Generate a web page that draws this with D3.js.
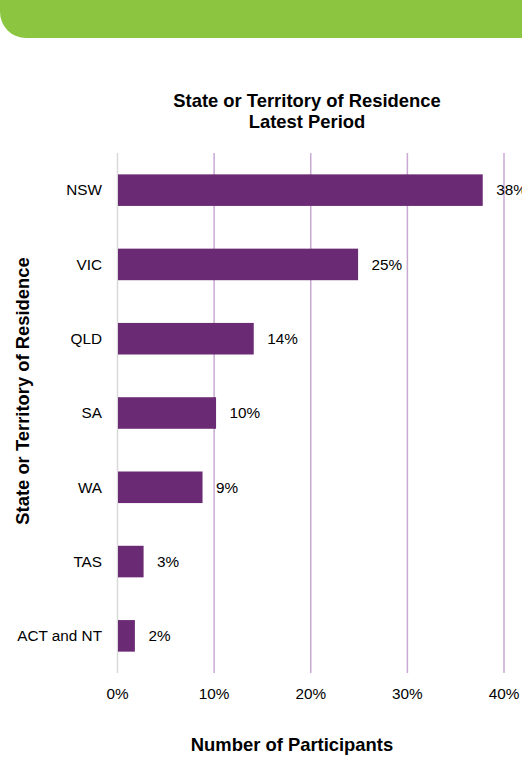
<!DOCTYPE html>
<html>
<head>
<meta charset="utf-8">
<script src="https://cdn.jsdelivr.net/npm/d3@7"></script>
<style>
  html, body { margin: 0; padding: 0; background: #fff; }
  svg { display: block; font-family: "Liberation Sans", Arial, sans-serif; }
</style>
</head>
<body>
<div id="chart"></div>
<script>
// data
const states = ["NSW", "VIC", "QLD", "SA", "WA", "TAS", "ACT and NT"];
const shares = [0.378, 0.249, 0.141, 0.102, 0.088, 0.027, 0.018];
const shareLabels = ["38%", "25%", "14%", "10%", "9%", "3%", "2%"];
const tickValues = [0, 0.1, 0.2, 0.3, 0.4];

const width = 522,
      height = 757;

const svg = d3.select("#chart")
  .append("svg")
    .attr("width", width)
    .attr("height", height);

// green banner at the top
svg.append("path")
  .attr("d", "M0,0 H522 V38 H26 A26,26 0 0 1 0,12 Z")
  .attr("fill", "#8CC641");

const margin = {top: 153, left: 117.5, right: 18, bottom: 84};

const x = d3.scaleLinear()
  .domain([0, 0.4])
  .range([margin.left, width - margin.right]);

const y = d3.scaleBand()
  .domain(states)
  .range([margin.top, height - margin.bottom])
  .paddingInner(0.575)
  .paddingOuter(0.2875);

// gridlines
svg.append("g")
  .selectAll("line")
  .data(tickValues.slice(1))
  .join("line")
    .attr("x1", d => x(d))
    .attr("x2", d => x(d))
    .attr("y1", margin.top)
    .attr("y2", height - margin.bottom)
    .attr("stroke", "#C9A9D3")
    .attr("stroke-width", 1.5);

// zero line
svg.append("line")
  .attr("x1", x(0)).attr("x2", x(0))
  .attr("y1", margin.top).attr("y2", height - margin.bottom)
  .attr("stroke", "#D9D9D9")
  .attr("stroke-width", 1.5);

// bars
svg.append("g")
  .selectAll("rect")
  .data(states)
  .join("rect")
    .attr("x", x(0) + 0.5)
    .attr("y", d => y(d))
    .attr("width", (d, i) => x(shares[i]) - x(0) - 0.5)
    .attr("height", y.bandwidth())
    .attr("fill", "#6B2B74");

// value labels
svg.append("g")
  .selectAll("text")
  .data(states)
  .join("text")
    .attr("x", (d, i) => x(shares[i]) + 13.5)
    .attr("y", d => y(d) + y.bandwidth() / 2)
    .attr("dy", "0.35em")
    .style("font-size", "15.3px")
    .style("fill", "#000")
    .text((d, i) => shareLabels[i]);

// category labels
svg.append("g")
  .selectAll("text")
  .data(states)
  .join("text")
    .attr("x", margin.left - 15.5)
    .attr("y", d => y(d) + y.bandwidth() / 2)
    .attr("dy", "0.35em")
    .attr("text-anchor", "end")
    .style("font-size", "15.3px")
    .style("fill", "#000")
    .text(d => d);

// x tick labels
svg.append("g")
  .selectAll("text")
  .data(tickValues)
  .join("text")
    .attr("x", d => x(d))
    .attr("y", 693.5)
    .attr("dy", "0.35em")
    .attr("text-anchor", "middle")
    .style("font-size", "15.3px")
    .style("fill", "#000")
    .text(d3.format(".0%"));

// chart title
svg.append("text")
  .attr("x", 307)
  .attr("y", 107)
  .attr("text-anchor", "middle")
  .style("font-size", "18.4px")
  .style("font-weight", "bold")
  .text("State or Territory of Residence");

svg.append("text")
  .attr("x", 307)
  .attr("y", 128)
  .attr("text-anchor", "middle")
  .style("font-size", "18.4px")
  .style("font-weight", "bold")
  .text("Latest Period");

// axis titles
svg.append("text")
  .attr("x", 292)
  .attr("y", 751)
  .attr("text-anchor", "middle")
  .style("font-size", "18.4px")
  .style("font-weight", "bold")
  .text("Number of Participants");

svg.append("text")
  .attr("transform", "translate(29,391) rotate(-90)")
  .attr("text-anchor", "middle")
  .style("font-size", "18.4px")
  .style("font-weight", "bold")
  .text("State or Territory of Residence");
</script>
</body>
</html>
